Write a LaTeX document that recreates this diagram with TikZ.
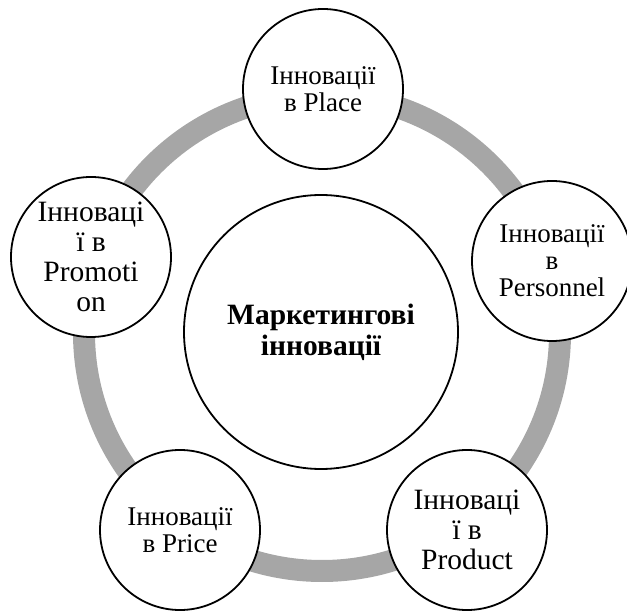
\documentclass[tikz,border=0pt]{standalone}
\usepackage{fontspec}
\setmainfont{Liberation Serif}
\definecolor{ringgray}{RGB}{166,166,166}
\begin{document}
\begin{tikzpicture}[x=1pt,y=-1pt,
  sat/.style={circle,draw=black,line width=1.8pt,fill=white,minimum size=160pt,inner sep=0pt,align=center},
  smalltxt/.style={font=\fontsize{27}{27}\selectfont},
  bigtxt/.style={font=\fontsize{29.5}{30}\selectfont}]
\useasboundingbox (0,0) rectangle (627,612);
\draw[ringgray,line width=22pt] (322,333) circle[radius=238pt];
\node[sat,minimum size=274pt,font=\fontsize{29.5}{31}\selectfont\bfseries] (center) at (321,332) {Маркетингові\\інновації};
\node[sat,smalltxt] (place) at (323,89) {Інновації\\в Place};
\node[sat,smalltxt] (personnel) at (552,261) {Інновації\\в\\Personnel};
\node[sat,bigtxt] (product) at (467,530) {Інноваці\\ї в\\Product};
\node[sat,smalltxt] (price) at (180,530) {Інновації\\в Price};
\node[sat,bigtxt] (promotion) at (91,257) {Інноваці\\ї в\\Promoti\\on};
\end{tikzpicture}
\end{document}
